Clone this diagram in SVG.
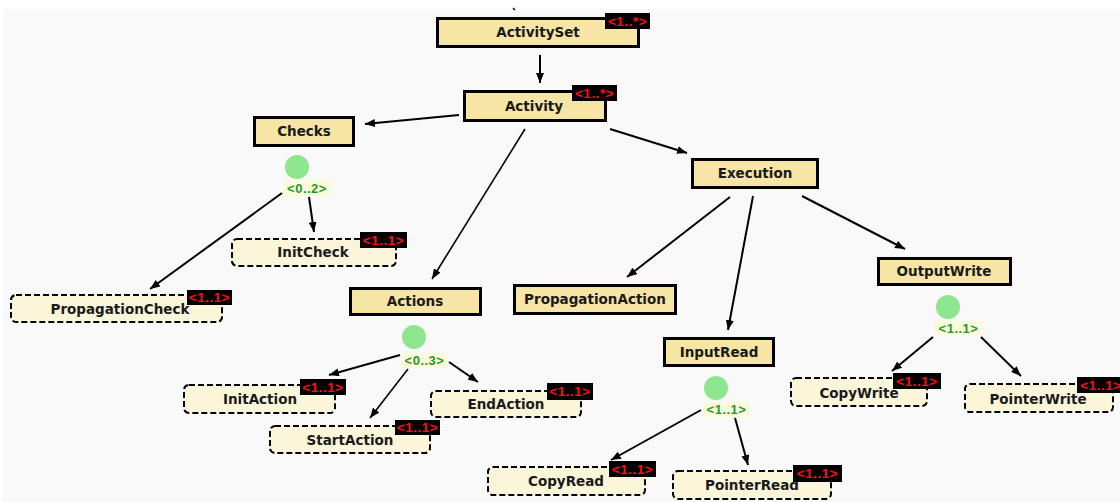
<svg xmlns="http://www.w3.org/2000/svg" width="1120" height="502" viewBox="0 0 1120 502">
  <style>
    .bg { fill: #f9f9f9; }
    .solid rect.box { fill: #f7e5a6; stroke: #000; stroke-width: 3; }
    .dashed rect.box { fill: #fbf6da; stroke: #000; stroke-width: 2; stroke-dasharray: 6 3; }
    .name { font-family: "DejaVu Sans", sans-serif; font-weight: bold; font-size: 13.5px; fill: #1a1a1a; text-anchor: middle; }
    rect.badge { fill: #000; }
    .badge-text { font-family: "Liberation Sans", Arial, sans-serif; font-weight: bold; font-size: 13.5px; letter-spacing: 0.5px; fill: #ff1010; text-anchor: middle; }
    circle.choice { fill: #8ee68e; }
    rect.range { fill: #fbfbdc; }
    .range-text { font-family: "Liberation Sans", Arial, sans-serif; font-weight: bold; font-size: 13px; letter-spacing: 0.5px; fill: #1f9a2a; text-anchor: middle; }
    #connectors line { stroke: #000; stroke-width: 2; marker-end: url(#arrow); }
  </style>
  <defs>
    <marker id="arrow" markerUnits="userSpaceOnUse" markerWidth="10" markerHeight="8" refX="10" refY="4" orient="auto">
      <path d="M0,0 L10,4 L0,8 z" fill="#000"/>
    </marker>
  </defs>

  <!-- canvas -->
  <rect x="0" y="0" width="1120" height="502" fill="#fff"/>
  <rect class="bg" x="3" y="9" width="1117" height="493"/>
  <line x1="513" y1="8" x2="515" y2="10" stroke="#000" stroke-width="1.5"/>

  <!-- connectors -->
  <g id="connectors">
    <line x1="540" y1="55" x2="540" y2="83"/>
    <line x1="459" y1="115" x2="365" y2="124"/>
    <line x1="525" y1="129" x2="432" y2="279" style="stroke-width:1.6"/>
    <line x1="610" y1="129" x2="687" y2="153"/>
    <line x1="282" y1="193" x2="150" y2="289"/>
    <line x1="309" y1="197" x2="314" y2="232"/>
    <line x1="400" y1="355" x2="329" y2="375"/>
    <line x1="408" y1="369" x2="370" y2="418" style="stroke-width:1.6"/>
    <line x1="449" y1="362" x2="478" y2="382"/>
    <line x1="730" y1="197" x2="627" y2="277"/>
    <line x1="753" y1="196" x2="728" y2="330"/>
    <line x1="802" y1="196" x2="905" y2="249"/>
    <line x1="701" y1="410" x2="611" y2="460"/>
    <line x1="735" y1="418" x2="748" y2="465"/>
    <line x1="933" y1="337" x2="892" y2="371"/>
    <line x1="981" y1="337" x2="1021" y2="376"/>
  </g>

  <!-- element nodes -->
  <g id="ActivitySet" class="solid">
    <rect class="box" x="437.5" y="18.5" width="201" height="28"/>
    <text class="name" x="538" y="37">ActivitySet</text>
    <rect class="badge" x="605" y="13" width="45" height="16"/>
    <text class="badge-text" x="627.5" y="26">&lt;1..*&gt;</text>
  </g>

  <g id="Activity" class="solid">
    <rect class="box" x="464.5" y="91.5" width="141" height="29"/>
    <text class="name" x="534" y="111">Activity</text>
    <rect class="badge" x="572" y="85" width="45" height="16"/>
    <text class="badge-text" x="594.5" y="98">&lt;1..*&gt;</text>
  </g>

  <g id="Checks" class="solid">
    <rect class="box" x="254.5" y="117.5" width="99" height="28"/>
    <text class="name" x="304" y="136">Checks</text>
    <circle class="choice" cx="297" cy="167" r="12"/>
    <rect class="range" x="283" y="180" width="48" height="16"/>
    <text class="range-text" x="307" y="193">&lt;0..2&gt;</text>
  </g>

  <g id="InitCheck" class="dashed">
    <rect class="box" x="232" y="239" width="164" height="27" rx="5"/>
    <text class="name" x="313" y="257">InitCheck</text>
    <rect class="badge" x="360" y="232" width="47" height="16"/>
    <text class="badge-text" x="383.5" y="245">&lt;1..1&gt;</text>
  </g>

  <g id="PropagationCheck" class="dashed">
    <rect class="box" x="11" y="295" width="211" height="27" rx="5"/>
    <text class="name" x="120" y="314">PropagationCheck</text>
    <rect class="badge" x="187" y="290" width="45" height="15"/>
    <text class="badge-text" x="209.5" y="302">&lt;1..1&gt;</text>
  </g>

  <g id="Actions" class="solid">
    <rect class="box" x="350.5" y="288.5" width="130" height="26"/>
    <text class="name" x="415" y="306">Actions</text>
    <circle class="choice" cx="414" cy="337" r="12"/>
    <rect class="range" x="401" y="353" width="47" height="15"/>
    <text class="range-text" x="424.5" y="365">&lt;0..3&gt;</text>
  </g>

  <g id="InitAction" class="dashed">
    <rect class="box" x="184" y="385" width="151" height="28" rx="5"/>
    <text class="name" x="260" y="404">InitAction</text>
    <rect class="badge" x="300" y="379" width="46" height="16"/>
    <text class="badge-text" x="323" y="392">&lt;1..1&gt;</text>
  </g>

  <g id="StartAction" class="dashed">
    <rect class="box" x="270" y="426" width="160" height="27" rx="5"/>
    <text class="name" x="350" y="445">StartAction</text>
    <rect class="badge" x="395" y="420" width="45" height="15"/>
    <text class="badge-text" x="417.5" y="432">&lt;1..1&gt;</text>
  </g>

  <g id="EndAction" class="dashed">
    <rect class="box" x="431" y="391" width="150" height="26" rx="5"/>
    <text class="name" x="506" y="409">EndAction</text>
    <rect class="badge" x="547" y="383" width="46" height="17"/>
    <text class="badge-text" x="570" y="396">&lt;1..1&gt;</text>
  </g>

  <g id="Execution" class="solid">
    <rect class="box" x="692.5" y="159.5" width="125" height="28"/>
    <text class="name" x="755" y="178">Execution</text>
  </g>

  <g id="PropagationAction" class="solid">
    <rect class="box" x="514.5" y="285.5" width="161" height="28"/>
    <text class="name" x="595" y="304">PropagationAction</text>
  </g>

  <g id="InputRead" class="solid">
    <rect class="box" x="664.5" y="338.5" width="109" height="27"/>
    <text class="name" x="719" y="357">InputRead</text>
    <circle class="choice" cx="716" cy="388" r="12"/>
    <rect class="range" x="703" y="402" width="47" height="15"/>
    <text class="range-text" x="726.5" y="414">&lt;1..1&gt;</text>
  </g>

  <g id="CopyRead" class="dashed">
    <rect class="box" x="488" y="467" width="157" height="28" rx="5"/>
    <text class="name" x="566" y="486">CopyRead</text>
    <rect class="badge" x="609" y="461" width="47" height="16"/>
    <text class="badge-text" x="632.5" y="474">&lt;1..1&gt;</text>
  </g>

  <g id="PointerRead" class="dashed">
    <rect class="box" x="673" y="471" width="158" height="28" rx="5"/>
    <text class="name" x="752" y="490">PointerRead</text>
    <rect class="badge" x="793" y="465" width="49" height="17"/>
    <text class="badge-text" x="817.5" y="478">&lt;1..1&gt;</text>
  </g>

  <g id="OutputWrite" class="solid">
    <rect class="box" x="878.5" y="258.5" width="132" height="26"/>
    <text class="name" x="944" y="276">OutputWrite</text>
    <circle class="choice" cx="948" cy="307" r="12"/>
    <rect class="range" x="934" y="321" width="49" height="14"/>
    <text class="range-text" x="958.5" y="333">&lt;1..1&gt;</text>
  </g>

  <g id="CopyWrite" class="dashed">
    <rect class="box" x="791" y="378" width="136" height="28" rx="5"/>
    <text class="name" x="859" y="398">CopyWrite</text>
    <rect class="badge" x="893" y="373" width="48" height="16"/>
    <text class="badge-text" x="917" y="386">&lt;1..1&gt;</text>
  </g>

  <g id="PointerWrite" class="dashed">
    <rect class="box" x="965" y="384" width="148" height="28" rx="5"/>
    <text class="name" x="1038" y="404">PointerWrite</text>
    <rect class="badge" x="1077" y="377" width="48" height="16"/>
    <text class="badge-text" x="1101" y="390">&lt;1..1&gt;</text>
  </g>
</svg>
